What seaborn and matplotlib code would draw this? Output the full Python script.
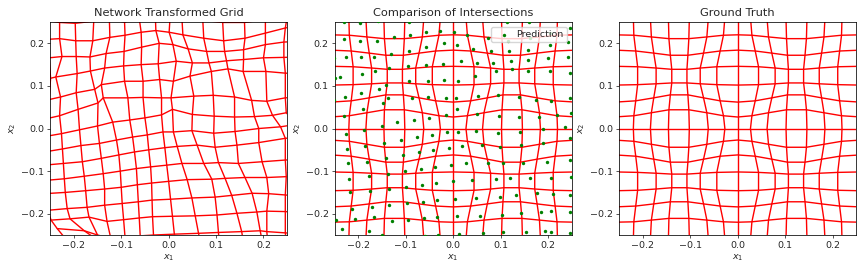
"""Network-transformed grid vs ground-truth grid, three panels side by side."""
import matplotlib
matplotlib.use("Agg")
import matplotlib.pyplot as plt
import numpy as np
import pandas as pd
import seaborn as sns

# ground truth: one quadrant of node offsets (line k, position m along it);
# the field is mirror-symmetric in x and y and x/y-swap symmetric
GT_PROFILE = [
    [0.000, 0.000, 0.000, 0.000, 0.000, 0.000, 0.000, 0.000],
    [0.027, 0.030, 0.037, 0.044, 0.044, 0.037, 0.030, 0.027],
    [0.062, 0.065, 0.072, 0.079, 0.079, 0.072, 0.065, 0.062],
    [0.102, 0.103, 0.105, 0.107, 0.107, 0.105, 0.103, 0.102],
    [0.146, 0.145, 0.142, 0.139, 0.139, 0.142, 0.145, 0.146],
    [0.184, 0.182, 0.177, 0.172, 0.172, 0.177, 0.182, 0.184],
    [0.220, 0.219, 0.215, 0.211, 0.211, 0.215, 0.219, 0.220],
    [0.262, 0.261, 0.258, 0.255, 0.255, 0.258, 0.261, 0.262],
]

# network output: node coordinates, rows top -> bottom, columns left -> right
NET_X = [
    [-0.262, -0.230, -0.197, -0.158, -0.125, -0.093, -0.062, -0.028, 0.003, 0.028, 0.072, 0.114, 0.160, 0.204, 0.250, 0.285],
    [-0.262, -0.230, -0.196, -0.160, -0.124, -0.092, -0.058, -0.027, 0.001, 0.030, 0.074, 0.116, 0.161, 0.204, 0.246, 0.285],
    [-0.252, -0.225, -0.195, -0.166, -0.132, -0.094, -0.057, -0.020, 0.009, 0.041, 0.080, 0.118, 0.158, 0.204, 0.243, 0.285],
    [-0.249, -0.238, -0.193, -0.165, -0.135, -0.095, -0.058, -0.022, 0.016, 0.050, 0.085, 0.122, 0.158, 0.200, 0.243, 0.285],
    [-0.252, -0.228, -0.195, -0.156, -0.142, -0.093, -0.054, -0.019, 0.010, 0.045, 0.090, 0.125, 0.157, 0.205, 0.246, 0.285],
    [-0.262, -0.230, -0.191, -0.149, -0.138, -0.086, -0.054, -0.015, 0.005, 0.053, 0.094, 0.139, 0.175, 0.207, 0.246, 0.285],
    [-0.262, -0.226, -0.188, -0.150, -0.118, -0.082, -0.050, -0.015, 0.008, 0.050, 0.096, 0.139, 0.181, 0.219, 0.248, 0.285],
    [-0.262, -0.224, -0.185, -0.146, -0.110, -0.076, -0.045, -0.012, 0.010, 0.049, 0.095, 0.140, 0.190, 0.236, 0.270, 0.300],
    [-0.262, -0.222, -0.182, -0.142, -0.105, -0.072, -0.042, -0.008, 0.018, 0.060, 0.098, 0.144, 0.190, 0.246, 0.280, 0.310],
    [-0.262, -0.220, -0.178, -0.138, -0.102, -0.068, -0.038, -0.004, 0.028, 0.074, 0.105, 0.147, 0.197, 0.246, 0.282, 0.310],
    [-0.262, -0.218, -0.175, -0.135, -0.100, -0.066, -0.036, 0.000, 0.039, 0.091, 0.119, 0.161, 0.207, 0.248, 0.285, 0.310],
    [-0.255, -0.214, -0.172, -0.135, -0.098, -0.064, -0.035, 0.004, 0.049, 0.098, 0.133, 0.176, 0.211, 0.246, 0.285, 0.310],
    [-0.248, -0.208, -0.168, -0.130, -0.095, -0.062, -0.034, 0.008, 0.056, 0.102, 0.144, 0.186, 0.207, 0.246, 0.285, 0.310],
    [-0.235, -0.178, -0.150, -0.122, -0.092, -0.060, -0.032, 0.012, 0.063, 0.105, 0.154, 0.193, 0.207, 0.246, 0.285, 0.310],
    [-0.215, -0.150, -0.130, -0.110, -0.088, -0.058, -0.030, 0.016, 0.070, 0.108, 0.160, 0.200, 0.210, 0.250, 0.290, 0.310],
]
NET_Y = [
    [0.255, 0.249, 0.247, 0.252, 0.256, 0.250, 0.258, 0.262, 0.262, 0.258, 0.254, 0.249, 0.249, 0.256, 0.262, 0.270],
    [0.209, 0.211, 0.206, 0.206, 0.214, 0.219, 0.226, 0.230, 0.226, 0.220, 0.212, 0.206, 0.212, 0.224, 0.236, 0.245],
    [0.166, 0.169, 0.169, 0.168, 0.176, 0.181, 0.191, 0.200, 0.197, 0.187, 0.181, 0.181, 0.185, 0.197, 0.203, 0.205],
    [0.118, 0.121, 0.129, 0.135, 0.142, 0.147, 0.150, 0.152, 0.158, 0.154, 0.154, 0.159, 0.162, 0.166, 0.167, 0.168],
    [0.068, 0.074, 0.084, 0.092, 0.103, 0.111, 0.111, 0.115, 0.111, 0.123, 0.134, 0.140, 0.134, 0.134, 0.130, 0.128],
    [0.022, 0.030, 0.045, 0.060, 0.072, 0.072, 0.073, 0.072, 0.072, 0.076, 0.078, 0.074, 0.066, 0.064, 0.072, 0.075],
    [-0.019, -0.012, -0.003, 0.006, 0.015, 0.020, 0.025, 0.032, 0.045, 0.033, 0.029, 0.027, 0.028, 0.031, 0.037, 0.040],
    [-0.055, -0.048, -0.040, -0.035, -0.027, -0.020, -0.015, -0.008, -0.008, -0.005, -0.011, -0.007, 0.000, 0.004, 0.010, 0.012],
    [-0.086, -0.082, -0.078, -0.070, -0.062, -0.055, -0.050, -0.045, -0.042, -0.039, -0.044, -0.039, -0.033, -0.023, -0.020, -0.018],
    [-0.122, -0.118, -0.112, -0.106, -0.100, -0.094, -0.090, -0.086, -0.082, -0.082, -0.080, -0.082, -0.078, -0.074, -0.072, -0.070],
    [-0.153, -0.150, -0.146, -0.142, -0.138, -0.132, -0.128, -0.124, -0.120, -0.119, -0.117, -0.115, -0.115, -0.113, -0.112, -0.110],
    [-0.192, -0.188, -0.185, -0.180, -0.176, -0.172, -0.168, -0.166, -0.163, -0.161, -0.157, -0.152, -0.153, -0.156, -0.160, -0.162],
    [-0.215, -0.212, -0.208, -0.218, -0.214, -0.210, -0.207, -0.206, -0.205, -0.203, -0.199, -0.196, -0.194, -0.195, -0.198, -0.200],
    [-0.235, -0.240, -0.250, -0.258, -0.255, -0.252, -0.250, -0.248, -0.246, -0.244, -0.242, -0.240, -0.242, -0.245, -0.248, -0.250],
    [-0.262, -0.262, -0.282, -0.290, -0.290, -0.290, -0.288, -0.286, -0.285, -0.283, -0.282, -0.280, -0.280, -0.282, -0.285, -0.290],
]

TICKS = [-0.2, -0.1, 0.0, 0.1, 0.2]
LIMITS = (-0.25, 0.25)
TITLES = ["Network Transformed Grid", "Comparison of Intersections", "Ground Truth"]


def gt_nodes():
    p = np.array(GT_PROFILE)
    idx = np.arange(-7, 8)
    k, s = np.abs(idx), np.sign(idx)
    # rows run along y, columns along x
    gy = s[:, None] * p[k[:, None], k[None, :]]
    gx = s[None, :] * p[k[None, :], k[:, None]]
    return gx, gy


def grid_frame(gx, gy):
    recs = []
    for i in range(gx.shape[0]):
        for j in range(gx.shape[1]):
            recs.append((f"h{i:02d}", j, gx[i, j], gy[i, j]))
    for j in range(gx.shape[1]):
        for i in range(gx.shape[0]):
            recs.append((f"v{j:02d}", i, gx[i, j], gy[i, j]))
    return pd.DataFrame(recs, columns=["line", "step", "x", "y"])


def draw_grid(ax, df):
    n = df["line"].nunique()
    sns.lineplot(data=df, x="x", y="y", hue="line", palette=["#ff0000"] * n,
                 estimator=None, sort=False, lw=1.0, legend=False, ax=ax)


sns.set_style("ticks")
plt.rcParams["font.family"] = ["DejaVu Sans"]

net_x, net_y = np.array(NET_X), np.array(NET_Y)
gt_x, gt_y = gt_nodes()
net_df = grid_frame(net_x, net_y)
gt_df = grid_frame(gt_x, gt_y)
pred_df = pd.DataFrame({"x": net_x.ravel(), "y": net_y.ravel()})

fig, axes = plt.subplots(1, 3, figsize=(8.64, 2.72), dpi=100)
fig.subplots_adjust(left=0.058, right=0.991, bottom=0.136, top=0.919, wspace=0.2)

draw_grid(axes[0], net_df)
draw_grid(axes[1], gt_df)
sns.scatterplot(data=pred_df, x="x", y="y", color="green", s=6, linewidth=0,
                label="Prediction", ax=axes[1], zorder=3)
axes[1].legend(loc="upper right", fontsize=6.8, markerscale=1.0, handletextpad=0.3,
               borderpad=0.35, framealpha=0.8)
draw_grid(axes[2], gt_df)

for ax, title in zip(axes, TITLES):
    ax.set_xlim(LIMITS)
    ax.set_ylim(LIMITS)
    ax.set_xticks(TICKS)
    ax.set_yticks(TICKS)
    ax.set_title(title, fontsize=8.2, pad=4)
    ax.set_xlabel("$x_1$", fontsize=6.8, labelpad=2)
    ax.set_ylabel("$x_2$", fontsize=6.8, labelpad=2)
    ax.tick_params(labelsize=6.8, length=2.4, width=0.55, pad=2)
    for sp in ax.spines.values():
        sp.set_linewidth(0.55)
        sp.set_color("black")

fig.savefig("out.png", dpi=100)
plt.close(fig)
